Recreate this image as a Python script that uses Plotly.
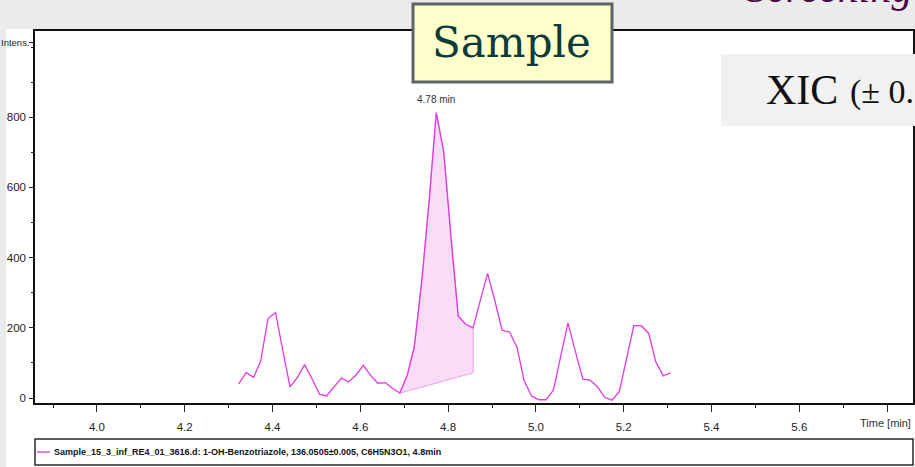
import plotly.graph_objects as go

# ---------------- data ----------------
time_min = [4.323, 4.340, 4.357, 4.373, 4.390, 4.407, 4.423, 4.440, 4.457, 4.473,
            4.490, 4.507, 4.523, 4.540, 4.557, 4.573, 4.590, 4.607, 4.623, 4.640,
            4.657, 4.673, 4.690, 4.707, 4.723, 4.740, 4.757, 4.773, 4.790, 4.807,
            4.823, 4.840, 4.857, 4.873, 4.890, 4.907, 4.923, 4.940, 4.957, 4.973,
            4.990, 5.007, 5.023, 5.040, 5.057, 5.073, 5.090, 5.107, 5.123, 5.140,
            5.157, 5.173, 5.190, 5.207, 5.223, 5.240, 5.257, 5.273, 5.290, 5.307]
intensity = [40, 72, 59, 105, 227, 243, 138, 32, 59, 95,
             55, 11, 6, 30, 57, 46, 65, 93, 65, 42,
             44, 28, 14, 65, 146, 333, 563, 813, 702, 450,
             234, 210, 200, 277, 355, 275, 193, 188, 144, 50,
             6, -5, -5, 23, 118, 214, 132, 54, 51, 32,
             2, -6, 18, 113, 206, 206, 184, 103, 63, 72]

peak_start_idx = 22
peak_end_idx = 32
baseline_values = [14, 72]        # integration baseline at start / end of the peak
peak_label = "4.78 min"
apex_idx = 27

x_tick_vals = [4.0, 4.2, 4.4, 4.6, 4.8, 5.0, 5.2, 5.4, 5.6, 5.8]
x_tick_text = ["4.0", "4.2", "4.4", "4.6", "4.8", "5.0", "5.2", "5.4", "5.6", ""]
x_minor_vals = [3.9, 4.1, 4.3, 4.5, 4.7, 4.9, 5.1, 5.3, 5.5, 5.7]
y_tick_vals = [0, 200, 400, 600, 800, 1014]
y_tick_text = ["0", "200", "400", "600", "800", ""]
y_title_text = "Intens."

legend_text = ("Sample_15_3_inf_RE4_01_3616.d: 1-OH-Benzotriazole, "
               "136.0505±0.005, C6H5N3O1, 4.8min")

# ---------------- figure ----------------
W, H = 915, 467
ML, MR, MT, MB = 35, 2, 31, 64
PW, PH = W - ML - MR, H - MT - MB


def fx(px):
    return (px - ML) / PW


def fy(py):
    return (H - MB - py) / PH


LINE = "#e03ae0"
FILL = "#f9dcf6"
EDGE = "#f3a9ef"
NARROW = "Liberation Sans Narrow, Liberation Sans, Arial, sans-serif"

fig = go.Figure()

# integrated peak area
px_fill = time_min[peak_start_idx:peak_end_idx + 1] + [time_min[peak_end_idx], time_min[peak_start_idx]]
py_fill = intensity[peak_start_idx:peak_end_idx + 1] + [baseline_values[1], baseline_values[0]]
fig.add_trace(go.Scatter(x=px_fill, y=py_fill, mode="lines", fill="toself",
                         fillcolor=FILL, line=dict(color=EDGE, width=1.2),
                         hoverinfo="skip", showlegend=False))

# chromatogram
fig.add_trace(go.Scatter(x=time_min, y=intensity, mode="lines",
                         line=dict(color=LINE, width=1.3), name=legend_text,
                         showlegend=False))

shapes = [
    # white chart image area
    dict(type="rect", xref="paper", yref="paper", x0=fx(6), x1=fx(925), y0=fy(467), y1=fy(29),
         fillcolor="white", line=dict(width=0), layer="below"),
    # legend box
    dict(type="rect", xref="paper", yref="paper", x0=fx(35), x1=fx(913), y0=fy(465), y1=fy(439),
         fillcolor="white", line=dict(color="#2a2a2a", width=1.5), layer="above"),
    dict(type="line", xref="paper", yref="paper", x0=fx(37), x1=fx(50), y0=fy(452), y1=fy(452),
         line=dict(color=LINE, width=1.3), layer="above"),
    # Sample box
    dict(type="rect", xref="paper", yref="paper", x0=fx(413), x1=fx(612), y0=fy(82), y1=fy(4),
         fillcolor="#ffffcc", line=dict(color="#5d6464", width=3), layer="above"),
    # XIC box
    dict(type="rect", xref="paper", yref="paper", x0=fx(721), x1=fx(930), y0=fy(126), y1=fy(54),
         fillcolor="#f1f1f1", line=dict(width=0), layer="above"),
]

annotations = [
    dict(x=time_min[apex_idx], y=intensity[apex_idx], xref="x", yref="y", text=peak_label,
         showarrow=False, yanchor="bottom", yshift=6,
         font=dict(family=NARROW, size=10, color="#333333")),
    dict(x=fx(32), y=y_tick_vals[-1], xref="paper", yref="y", text=y_title_text,
         showarrow=False, xanchor="right", yanchor="middle", xshift=0,
         font=dict(family=NARROW, size=9.5, color="#222222")),
    dict(x=fx(913), y=fy(423), xref="paper", yref="paper", text="Time [min]",
         showarrow=False, xanchor="right", yanchor="middle",
         font=dict(family=NARROW, size=11, color="#333333")),
    dict(x=fx(52), y=fy(452), xref="paper", yref="paper", text="<b>" + legend_text + "</b>",
         showarrow=False, xanchor="left", yanchor="middle",
         font=dict(family=NARROW, size=9, color="#111111")),
    dict(x=fx(512), y=fy(43), xref="paper", yref="paper", text="Sample",
         showarrow=False, xanchor="center", yanchor="middle",
         font=dict(family="DejaVu Serif", size=42, color="#0b3b3b")),
    dict(x=fx(764), y=fy(90), xref="paper", yref="paper", text="XIC",
         showarrow=False, xanchor="left", yanchor="middle",
         font=dict(family="Liberation Serif", size=42, color="#111111")),
    dict(x=fx(848), y=fy(92), xref="paper", yref="paper", text="(± 0.",
         showarrow=False, xanchor="left", yanchor="middle",
         font=dict(family="Liberation Serif", size=34, color="#111111")),
    dict(x=fx(914), y=fy(13), xref="paper", yref="paper", text="<i>Screening</i>",
         showarrow=False, xanchor="right", yanchor="bottom",
         font=dict(family="Liberation Serif", size=42, color="#4a0b45")),
]

fig.update_layout(
    width=W, height=H,
    margin=dict(l=ML, r=MR, t=MT, b=MB, pad=0, autoexpand=False),
    paper_bgcolor="#ebebeb", plot_bgcolor="white",
    shapes=shapes, annotations=annotations,
    showlegend=False,
    xaxis=dict(range=[3.859, 5.859], tickmode="array", tickvals=x_tick_vals, ticktext=x_tick_text,
               automargin=False,
               ticks="outside", ticklen=7, tickwidth=1.2, tickcolor="#222",
               ticklabelstandoff=5,
               minor=dict(tickmode="array", tickvals=x_minor_vals, ticks="outside", ticklen=3,
                          tickwidth=1.2, tickcolor="#222"),
               showline=True, linecolor="#111", linewidth=1.5, mirror=True,
               showgrid=False, zeroline=False,
               tickfont=dict(family=NARROW, size=11.5, color="#222")),
    yaxis=dict(range=[-14.2, 1045.6], tickmode="array", tickvals=y_tick_vals, ticktext=y_tick_text,
               automargin=False,
               ticks="outside", ticklen=4, tickwidth=1.2, tickcolor="#222",
               ticklabelstandoff=1,
               minor=dict(dtick=100, tick0=0, ticks="outside", ticklen=2, tickwidth=1.2,
                          tickcolor="#222"),
               showline=True, linecolor="#111", linewidth=1.5, mirror=True,
               showgrid=False, zeroline=False,
               tickfont=dict(family=NARROW, size=11.5, color="#222")),
)

fig.write_html("out.html", config={"displayModeBar": False},
               post_script="document.body.style.margin='0';document.body.style.overflow='hidden';")
